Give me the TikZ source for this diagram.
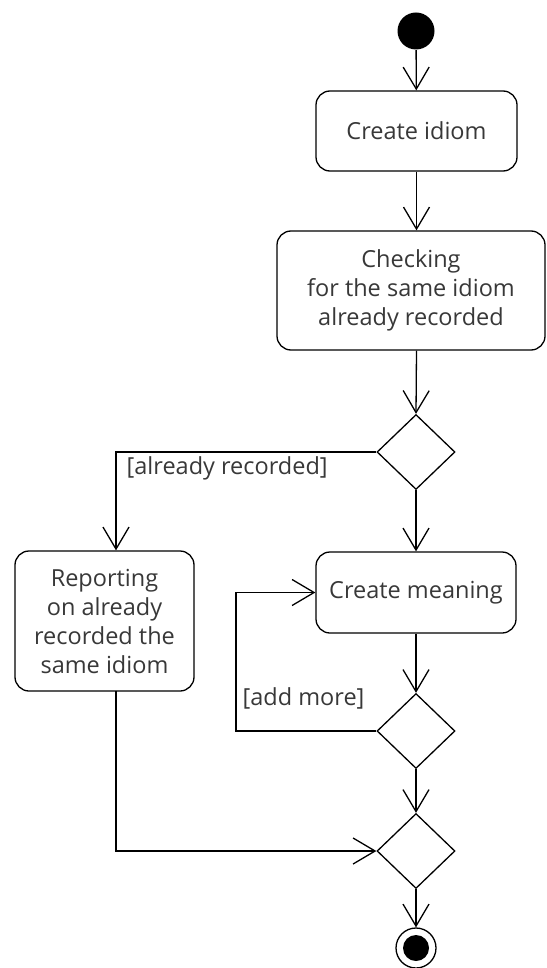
\documentclass[tikz,border=0pt]{standalone}
\usepackage{fontspec}
\setmainfont{Open Sans}
\usetikzlibrary{shapes.geometric,arrows.meta}
\begin{document}
\begin{tikzpicture}[x=1pt,y=-1pt,
  line width=1.3pt,
  flow/.style={-{Straight Barb[length=22pt,width=26pt,line width=1.3pt]}},
  act/.style={draw, rounded corners=14pt, align=center, inner sep=0pt, text=black!78,
    font=\fontsize{23.5}{29}\selectfont},
  dec/.style={draw, diamond, inner sep=0pt, minimum width=78pt, minimum height=75pt},
  lbl/.style={text=black!78, font=\fontsize{23.5}{29}\selectfont, inner sep=0pt}]
\useasboundingbox (0,0) rectangle (546,968);
\node[circle, fill=black, minimum size=37pt, inner sep=0pt] (start) at (416,31) {};
\node[act, minimum width=201pt, minimum height=80pt] (idiom) at (416.5,131) {Create idiom};
\node[act, minimum width=268pt, minimum height=119pt] (check) at (411,290.5)
  {Checking\\for the same idiom\\already recorded};
\node[dec] (d1) at (416,452) {};
\node[act, minimum width=179pt, minimum height=140pt] (report) at (104.5,621)
  {Reporting\\on already\\recorded the\\same idiom};
\node[act, minimum width=200pt, minimum height=81pt] (meaning) at (416,592.5) {Create meaning};
\node[dec] (d2) at (416,731) {};
\node[dec] (d3) at (416,851) {};
\node[circle, draw, line width=1.3pt, minimum size=40pt, inner sep=0pt] (end) at (416,948) {};
\node[circle, fill=black, minimum size=26pt, inner sep=0pt] (endin) at (416,948) {};
\node[lbl, anchor=west] (l1) at (126,468) {[already recorded]};
\node[lbl, anchor=west] (l2) at (242,698) {[add more]};
\coordinate (a1) at (116,452);
\coordinate (a2) at (236,731);
\coordinate (a3) at (236,592.5);
\coordinate (rb) at (116,691);
\coordinate (a4) at (116,851);
\draw[flow] (start) -- (idiom);
\draw[flow] (idiom.south) -- (idiom.south |- check.north);
\draw[flow] (idiom.south |- check.south) -- (d1.north);
\draw[flow] (d1.west) -- (a1) -- (a1 |- report.north);
\draw[flow] (d1.south) -- (meaning.north);
\draw[flow] (meaning.south) -- (d2.north);
\draw[flow] (d2.west) -- (a2) -- (a3) -- (meaning.west);
\draw[flow] (d2.south) -- (d3.north);
\draw[flow] (rb) -- (a4) -- (d3.west);
\draw[flow] (d3.south) -- (end.north);
\end{tikzpicture}
\end{document}
